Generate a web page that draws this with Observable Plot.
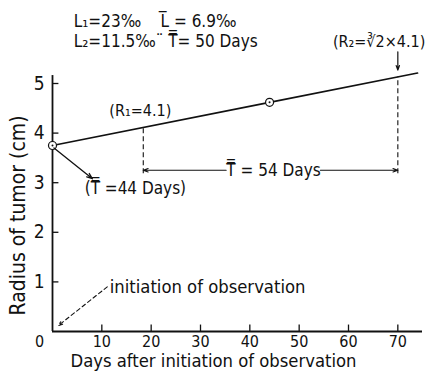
<!DOCTYPE html>
<html>
<head>
<meta charset="utf-8">
<script src="https://cdn.jsdelivr.net/npm/d3@7"></script>
<script src="https://cdn.jsdelivr.net/npm/@observablehq/plot@0.6"></script>
<style>
  html, body { margin: 0; padding: 0; background: #fff; }
  svg { display: block; }
  svg text { font-family: "DejaVu Sans", sans-serif; font-stretch: condensed; }
</style>
</head>
<body>
<div id="chart"></div>
<script>
// Data
const days = [0, 44, 74];            // days after initiation of observation
const radius = [3.75, 4.62, 5.21];   // radius of tumor (cm)
const measuredDays = [0, 44];
const measuredRadius = [3.75, 4.62];
const xTicks = [10, 20, 30, 40, 50, 60, 70];
const yTicks = [1, 2, 3, 4, 5];
const r1Day = 18.4, r1Value = 4.1;
const r2Day = 70, r2Value = 5.13;
const headerLines = ["L\u2081=23\u2030    L\u0305 = 6.9\u2030", "L\u2082=11.5\u2030\u00A8 T\u033F= 50 Days"];

const line = days.map((d, i) => ({x: d, y: radius[i]}));
const pts = measuredDays.map((d, i) => ({x: d, y: measuredRadius[i]}));

const chart = Plot.plot({
  width: 425,
  height: 379,
  marginLeft: 52,
  marginRight: 3,
  marginBottom: 48,
  marginTop: 33.4,
  x: {domain: [0, 75], axis: null},
  y: {domain: [0, 6], axis: null},
  style: {fontSize: "17px", color: "#111", background: "#fff"},
  marks: [
    // axes
    Plot.ruleY([0], {x1: 0, x2: 75, stroke: "#111", strokeWidth: 1.8}),
    Plot.ruleX([0], {y1: 0, y2: 5.16, stroke: "#111", strokeWidth: 1.8}),
    Plot.ruleX(xTicks, {y1: 0, y2: 0.13, stroke: "#111", strokeWidth: 1.3}),
    Plot.ruleY(yTicks, {x1: 0, x2: 1.3, stroke: "#111", strokeWidth: 1.3}),
    Plot.text(xTicks, {x: d => d, y: 0, dy: 10, text: d => String(d), fontSize: 16, fill: "#111"}),
    Plot.text([0], {x: 0, y: 0, dx: -13, dy: 10, text: d => String(d), fontSize: 16, fill: "#111"}),
    Plot.text(yTicks, {x: 0, y: d => d, dx: -8, textAnchor: "end", text: d => String(d), fontSize: 19, fill: "#111"}),
    Plot.text(["Days after initiation of observation"], {frameAnchor: "bottom", dy: 35, dx: -24, text: d => d, fontSize: 18.3, fill: "#111"}),
    Plot.text(["Radius of tumor (cm)"], {x: 0, y: 2.34, dx: -34, rotate: -90, text: d => d, fontSize: 21, fill: "#111"}),
    // header
    Plot.text(headerLines, {x: 4.3, y: (d, i) => 6.25 - i * 0.41, textAnchor: "start", text: d => d, fontSize: 17, fill: "#111"}),
    // growth line
    Plot.line(line, {x: "x", y: "y", stroke: "#111", strokeWidth: 1.6}),
    Plot.dot(pts, {x: "x", y: "y", r: 4, stroke: "#111", fill: "#fff", strokeWidth: 1.2}),
    Plot.dot(pts, {x: "x", y: "y", r: 1, fill: "#111"}),
    // dashed verticals at R1 and R2
    Plot.ruleX([r1Day], {y1: 3.18, y2: r1Value, stroke: "#111", strokeDasharray: "5,3", strokeWidth: 1.1}),
    Plot.ruleX([r2Day], {y1: 3.18, y2: r2Value, stroke: "#111", strokeDasharray: "5,3", strokeWidth: 1.1}),
    // 54 days double arrow
    Plot.arrow([{x1: 35.2, x2: r1Day}, {x1: 54.3, x2: r2Day}], {x1: "x1", x2: "x2", y1: 3.25, y2: 3.25, stroke: "#111", strokeWidth: 1.1, headLength: 7, headAngle: 40}),
    Plot.text(["T\u033F = 54 Days"], {x: 44.8, y: 3.25, text: d => d, fontSize: 17, fill: "#111"}),
    Plot.text(["(R\u2081=4.1)"], {x: 17.8, y: 4.45, text: d => d, fontSize: 16, fill: "#111"}),
    // arrow to 44 days label
    Plot.arrow([{x1: 0.3, y1: 3.7, x2: 8.1, y2: 3.08}], {x1: "x1", y1: "y1", x2: "x2", y2: "y2", stroke: "#111", strokeWidth: 1.3, headLength: 7, headAngle: 40}),
    Plot.text(["(T\u033F =44 Days)"], {x: 16.8, y: 2.88, text: d => d, fontSize: 17, fill: "#111"}),
    // R2 label and down arrow
    Plot.arrow([{x1: r2Day, y1: 5.64, x2: r2Day, y2: 5.27}], {x1: "x1", y1: "y1", x2: "x2", y2: "y2", stroke: "#111", strokeWidth: 1.2, headLength: 6, headAngle: 40}),
    Plot.text(["(R\u2082=\u221B2\u00D74.1)"], {x: 66.2, y: 5.83, text: d => d, fontSize: 16, fill: "#111"}),
    // initiation of observation
    Plot.arrow([{x1: 11.1, y1: 0.9, x2: 1.2, y2: 0.12}], {x1: "x1", y1: "y1", x2: "x2", y2: "y2", stroke: "#111", strokeWidth: 1.1, strokeDasharray: "4,3", headLength: 6, headAngle: 40}),
    Plot.text(["initiation of observation"], {x: 11.6, y: 0.89, textAnchor: "start", text: d => d, fontSize: 18.3, fill: "#111"})
  ]
});
document.getElementById("chart").appendChild(chart);
</script>
</body>
</html>
